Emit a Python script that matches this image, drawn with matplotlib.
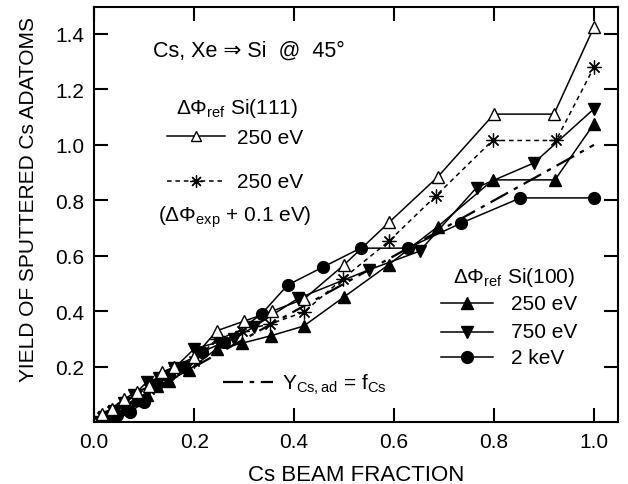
import numpy as np
import matplotlib
matplotlib.use("Agg")
import matplotlib.pyplot as plt
from matplotlib.lines import Line2D

plt.rcParams["font.family"] = ["Liberation Sans", "DejaVu Sans"]
plt.rcParams["mathtext.fontset"] = "custom"
plt.rcParams["mathtext.rm"] = "Liberation Sans"
plt.rcParams["mathtext.it"] = "Liberation Sans:italic"

# Si(111), 250 eV, dPhi_ref (open triangles, solid)
x_111 = [0.0, 0.015, 0.035, 0.06, 0.085, 0.11, 0.135, 0.16, 0.2, 0.245, 0.3, 0.355, 0.42, 0.5, 0.59, 0.687, 0.8, 0.92, 1.0]
y_111 = [0.0, 0.03, 0.05, 0.085, 0.11, 0.13, 0.18, 0.2, 0.235, 0.33, 0.365, 0.40, 0.445, 0.568, 0.721, 0.884, 1.111, 1.111, 1.425]

# Si(111), 250 eV, dPhi_exp + 0.1 eV (asterisks, dotted)
x_111exp = [0.0, 0.015, 0.035, 0.06, 0.085, 0.11, 0.135, 0.16, 0.2, 0.245, 0.295, 0.352, 0.419, 0.497, 0.589, 0.684, 0.797, 0.924, 1.0]
y_111exp = [0.0, 0.02, 0.04, 0.07, 0.10, 0.12, 0.16, 0.19, 0.22, 0.30, 0.33, 0.355, 0.397, 0.517, 0.652, 0.817, 1.016, 1.016, 1.28]

# Si(100), 250 eV (filled triangles up)
x_100a = [0.0, 0.02, 0.04, 0.06, 0.085, 0.105, 0.125, 0.15, 0.19, 0.245, 0.295, 0.353, 0.419, 0.499, 0.589, 0.687, 0.798, 0.922, 1.0]
y_100a = [0.0, 0.01, 0.03, 0.05, 0.08, 0.10, 0.13, 0.15, 0.19, 0.265, 0.285, 0.312, 0.347, 0.451, 0.568, 0.705, 0.874, 0.874, 1.076]

# Si(100), 750 eV (filled triangles down)
x_100b = [0.0, 0.02, 0.04, 0.06, 0.08, 0.105, 0.13, 0.16, 0.2, 0.25, 0.28, 0.32, 0.408, 0.55, 0.651, 0.765, 0.88, 1.0]
y_100b = [0.0, 0.02, 0.04, 0.07, 0.10, 0.145, 0.16, 0.195, 0.265, 0.29, 0.30, 0.345, 0.447, 0.55, 0.617, 0.846, 0.935, 1.13]

# Si(100), 2 keV (filled circles)
x_100c = [0.0, 0.02, 0.045, 0.072, 0.099, 0.125, 0.15, 0.18, 0.215, 0.26, 0.335, 0.387, 0.457, 0.533, 0.627, 0.734, 0.853, 1.0]
y_100c = [0.0, 0.01, 0.025, 0.037, 0.073, 0.14, 0.17, 0.2, 0.253, 0.29, 0.391, 0.495, 0.559, 0.628, 0.628, 0.718, 0.809, 0.809]

# reference line Y = f
x_ref = [0.0, 1.0]

x_ticks = [0.0, 0.2, 0.4, 0.6, 0.8, 1.0]
y_ticks = [0.2, 0.4, 0.6, 0.8, 1.0, 1.2, 1.4]

LW = 1.1
FS = 15
dashdot = (0, (9, 3, 2, 3))
dotted = (0, (3, 2.5))
asterisk = (8, 2, 0)

styles = {
    "111": dict(color="black", lw=LW, marker="^", ms=9, mfc="white", mec="black", mew=1.0),
    "111exp": dict(color="black", lw=LW, ls=dotted, marker=asterisk, ms=10, mec="black", mew=0.9),
    "100a": dict(color="black", lw=LW, marker="^", ms=9, mfc="black", mec="black"),
    "100b": dict(color="black", lw=LW, marker="v", ms=9, mfc="black", mec="black"),
    "100c": dict(color="black", lw=LW, marker="o", ms=8.5, mfc="black", mec="black"),
    "ref": dict(color="black", lw=1.6, ls=dashdot),
}

fig = plt.figure(figsize=(6.28, 4.85), dpi=100)
ax = fig.add_axes([0.150, 0.127, 0.834, 0.8565])

ax.plot(x_ref, x_ref, **styles["ref"])
ax.plot(x_100c, y_100c, **styles["100c"])
ax.plot(x_100a, y_100a, **styles["100a"])
ax.plot(x_100b, y_100b, **styles["100b"])
ax.plot(x_111exp, y_111exp, **styles["111exp"])
ax.plot(x_111, y_111, **styles["111"])

ax.set_xlim(0, 1.048)
ax.set_ylim(0, 1.497)
ax.set_xticks(x_ticks)
ax.set_xticklabels([f"{v:.1f}" for v in x_ticks])
ax.set_yticks(y_ticks)
ax.set_yticklabels([f"{v:.1f}" for v in y_ticks])
ax.tick_params(direction="in", length=10, width=1.5, labelsize=FS,
               top=True, right=True, pad=7)
for sp in ax.spines.values():
    sp.set_linewidth(1.5)

ax.set_xlabel("Cs BEAM FRACTION", fontsize=16, labelpad=9)
ax.set_ylabel("YIELD OF SPUTTERED Cs ADATOMS", fontsize=15)
ax.yaxis.set_label_coords(-0.108, 0.538)


def legend_sample(x0, x1, y, style, ms=None):
    st = dict(style)
    if ms is not None:
        st["ms"] = ms
    ax.add_line(Line2D([x0, 0.5 * (x0 + x1), x1], [y, y, y], markevery=[1],
                       transform=ax.transAxes, clip_on=False, **st))


T = ax.transAxes
ax.text(0.296, 0.883, "Cs, Xe \u21d2 Si  @  45\u00b0", transform=T, fontsize=15.5,
        ha="center", va="baseline", family=["Liberation Sans", "DejaVu Sans"])

ax.text(0.272, 0.744, "\u0394\u03a6$_{\\mathrm{ref}}$ Si(111)", transform=T,
        fontsize=FS, ha="center", va="baseline")
legend_sample(0.139, 0.250, 0.690, styles["111"], ms=7)
ax.text(0.273, 0.673, "250 eV", transform=T, fontsize=FS, va="baseline")
legend_sample(0.139, 0.250, 0.580, styles["111exp"], ms=9)
ax.text(0.273, 0.566, "250 eV", transform=T, fontsize=FS, va="baseline")
ax.text(0.269, 0.486, "(\u0394\u03a6$_{\\mathrm{exp}}$ + 0.1 eV)", transform=T,
        fontsize=FS, ha="center", va="baseline")

ax.text(0.801, 0.337, "\u0394\u03a6$_{\\mathrm{ref}}$ Si(100)", transform=T,
        fontsize=FS, ha="center", va="baseline")
legend_sample(0.662, 0.762, 0.288, styles["100a"])
ax.text(0.795, 0.273, "250 eV", transform=T, fontsize=FS, va="baseline")
legend_sample(0.662, 0.762, 0.2185, styles["100b"])
ax.text(0.795, 0.205, "750 eV", transform=T, fontsize=FS, va="baseline")
legend_sample(0.662, 0.762, 0.158, styles["100c"])
ax.text(0.795, 0.143, "2 keV", transform=T, fontsize=FS, va="baseline")

ax.add_line(Line2D([0.246, 0.342], [0.0975, 0.0975], transform=T, **styles["ref"]))
ax.text(0.359, 0.0806, "Y$_{\\mathrm{Cs,ad}}$ = f$_{\\mathrm{Cs}}$", transform=T,
        fontsize=FS, va="baseline")

fig.savefig("out.png", dpi=100)
